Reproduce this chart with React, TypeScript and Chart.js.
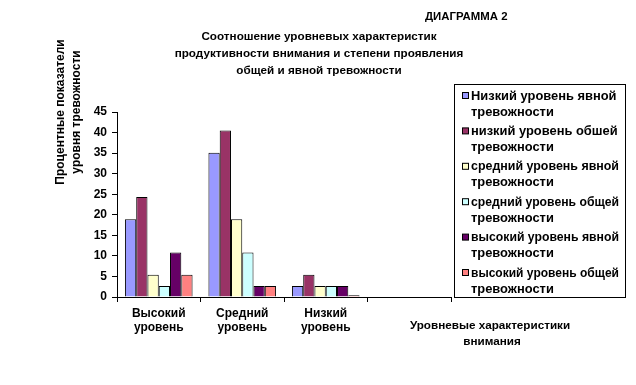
import React, { useEffect, useRef } from "react";
import { Chart, registerables } from "chart.js";

Chart.register(...registerables);

const categories: string[][] = [["Высокий", "уровень"], ["Средний", "уровень"], ["Низкий", "уровень"], [""]];
const seriesNames = [
  ["Низкий уровень явной", "тревожности"],
  ["низкий уровень обшей", "тревожности"],
  ["средний уровень явной", "тревожности"],
  ["средний уровень общей", "тревожности"],
  ["высокий уровень явной", "тревожности"],
  ["высокий уровень общей", "тревожности"],
];
const lowExplicit = [18.9, 35.1, 2.7, null];
const lowGeneral = [24.3, 40.5, 5.4, null];
const midExplicit = [5.4, 18.9, 2.7, null];
const midGeneral = [2.7, 10.8, 2.7, null];
const highExplicit = [10.8, 2.7, 2.7, null];
const highGeneral = [5.4, 2.7, 0.4, null];
const seriesColors = ["#9999FF", "#993366", "#FFFFCC", "#CCFFFF", "#660066", "#FF8080"];
const titleLines = [
  "Соотношение уровневых характеристик",
  "продуктивности внимания и степени проявления",
  "общей и явной тревожности",
];
const topLabel = "ДИАГРАММА 2";
const yTitle = ["Процентные показатели", "уровня тревожности"];
const xTitle = ["Уровневые характеристики", "внимания"];

const FAMILY = "'Liberation Sans', Arial, sans-serif";

export default function App() {
  const ref = useRef<HTMLCanvasElement>(null);
  useEffect(() => {
    const values = [lowExplicit, lowGeneral, midExplicit, midGeneral, highExplicit, highGeneral];
    const textPlugin = {
      id: "extraText",
      afterDraw(chart: any) {
        const ctx = chart.ctx as CanvasRenderingContext2D;
        ctx.save();
        ctx.fillStyle = "#000";
        ctx.textBaseline = "middle";
        // top label
        ctx.font = `bold 11.4px ${FAMILY}`;
        ctx.textAlign = "left";
        ctx.fillText(topLabel, 417, 9);
        // title
        ctx.font = `bold 11.7px ${FAMILY}`;
        ctx.textAlign = "center";
        titleLines.forEach((t, i) => ctx.fillText(t, 311, 29 + i * 17));
        // x title
        ctx.fillText(xTitle[0], 482, 318);
        ctx.fillText(xTitle[1], 484, 334);
        // y title
        ctx.font = `bold 12px ${FAMILY}`;
        ctx.save();
        ctx.translate(53, 104);
        ctx.rotate(-Math.PI / 2);
        ctx.fillText(yTitle[0], 0, 0);
        ctx.fillText(yTitle[1], 0, 16);
        ctx.restore();
        // legend
        ctx.font = `bold 12.9px ${FAMILY}`;
        ctx.strokeStyle = "#000";
        ctx.lineWidth = 1;
        ctx.strokeRect(446.5, 76.5, 171, 213);
        ctx.textAlign = "left";
        seriesNames.forEach((lines, i) => {
          const y = 88 + i * 35.4;
          ctx.fillStyle = seriesColors[i];
          ctx.fillRect(454.5, y - 3.5, 6, 6);
          ctx.strokeRect(454.5, y - 3.5, 6, 6);
          ctx.fillStyle = "#000";
          ctx.fillText(lines[0], 463, y, 148);
          ctx.fillText(lines[1], 463, y + 16, 148);
        });
        ctx.restore();
      },
    };
    const chart = new Chart(ref.current!, {
      type: "bar",
      data: {
        labels: categories,
        datasets: values.map((v, i) => ({
          label: seriesNames[i].join(" "),
          data: v,
          backgroundColor: seriesColors[i],
          borderColor: "#000",
          borderWidth: 1,
          categoryPercentage: 0.81,
          barPercentage: 1,
        })),
      },
      options: {
        animation: false,
        responsive: false,
        layout: { padding: { left: 0, top: 104, right: 177, bottom: 0 } },
        plugins: { legend: { display: false }, title: { display: false }, tooltip: { enabled: false } },
        scales: {
          x: {
            grid: { display: true, drawOnChartArea: false, drawTicks: true, tickLength: 5, color: "#000", offset: true },
            border: { display: true, color: "#000" },
            ticks: { color: "#000", font: { family: FAMILY, size: 12, weight: "bold" }, padding: 4, maxRotation: 0, autoSkip: false },
            afterFit(scale: any) { scale.height = 80; },
          },
          y: {
            min: 0,
            max: 45,
            grid: { display: true, drawOnChartArea: false, drawTicks: true, tickLength: 5, color: "#000" },
            border: { display: true, color: "#000" },
            ticks: { stepSize: 5, color: "#000", font: { family: FAMILY, size: 12, weight: "bold" }, padding: 5 },
            afterFit(scale: any) { scale.width = 109; },
          },
        },
      },
      plugins: [textPlugin],
    });
    return () => chart.destroy();
  }, []);
  return (
    <div style={{ width: 620, height: 369 }}>
      <canvas ref={ref} width={620} height={369} style={{ display: "block" }} />
    </div>
  );
}
